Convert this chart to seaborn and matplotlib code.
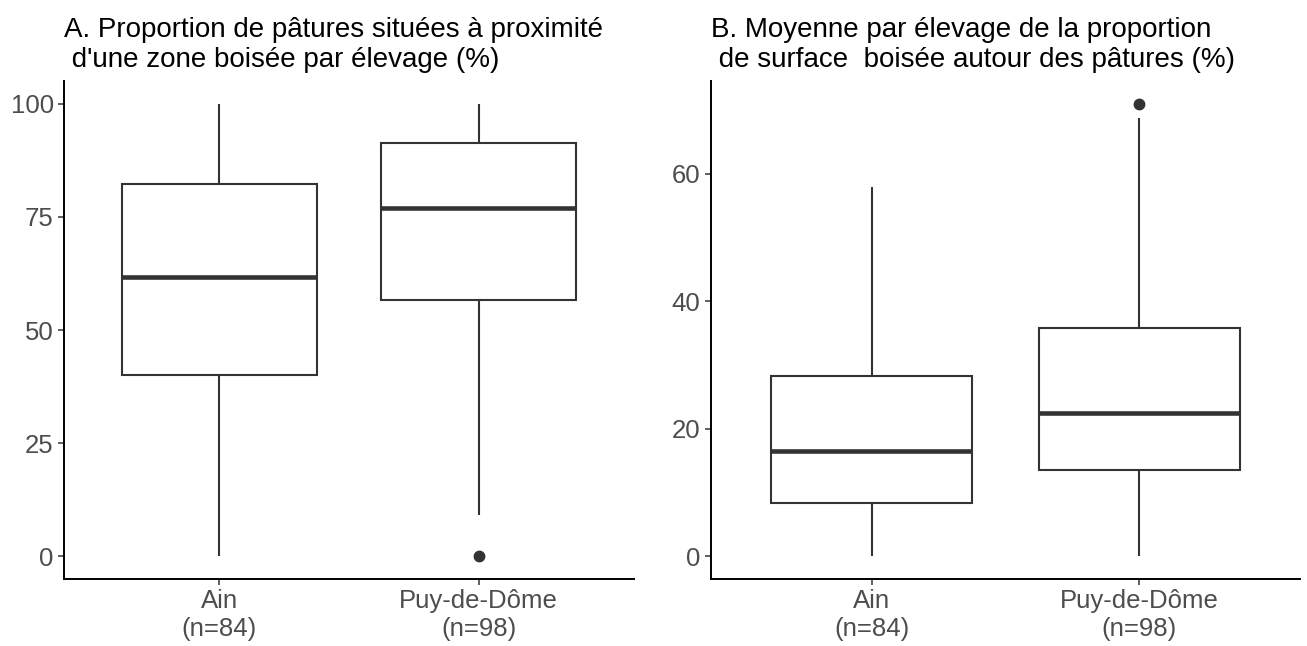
import pandas as pd
import seaborn as sns
import matplotlib.pyplot as plt

# departements and sample sizes
departements = ["Ain", "Puy-de-Dôme"]
effectifs = [84, 98]

# values chosen so the box summaries match the figure
# (min/whisker, Q1, median, Q3, max + outliers)
ain_prox = [0, 40.1, 61.6, 82.2, 100]
puy_prox = [0, 9.2, 56.6, 66, 77, 84, 91.4, 95, 100]
ain_surf = [0, 8.3, 16.5, 28.3, 57.9]
puy_surf = [0, 6, 13.5, 18, 22.5, 29, 35.75, 68.8, 71.0]

ticks_prox = [0, 25, 50, 75, 100]
ticks_surf = [0, 20, 40, 60]

titre_a = "A. Proportion de pâtures situées à proximité\n d'une zone boisée par élevage (%)"
titre_b = "B. Moyenne par élevage de la proportion\n de surface  boisée autour des pâtures (%)"


def make_df(ain, puy):
    return pd.DataFrame({
        "departement": [departements[0]] * len(ain) + [departements[1]] * len(puy),
        "valeur": ain + puy,
    })


sns.set_theme(style="ticks")
plt.rcParams["font.family"] = ["Liberation Sans", "DejaVu Sans"]

fig = plt.figure(figsize=(13.07, 6.46), dpi=100)
ax_a = fig.add_axes([0.049, 0.1037, 0.4361, 0.7709])
ax_b = fig.add_axes([0.544, 0.1037, 0.4507, 0.7709])

labels = [f"{d}\n(n={n})" for d, n in zip(departements, effectifs)]

for ax, df, ticks, titre in [
    (ax_a, make_df(ain_prox, puy_prox), ticks_prox, titre_a),
    (ax_b, make_df(ain_surf, puy_surf), ticks_surf, titre_b),
]:
    sns.boxplot(
        data=df, x="departement", y="valeur", ax=ax,
        color="white", linecolor="#333333", linewidth=1.5, width=0.75,
        showcaps=False, whis=1.5, saturation=1,
        medianprops=dict(linewidth=3.3, color="#333333"),
        flierprops=dict(marker="o", markerfacecolor="#333333",
                        markeredgecolor="#333333", markersize=7.5),
    )
    lo, hi = df["valeur"].min(), df["valeur"].max()
    rng = hi - lo
    ax.set_ylim(lo - 0.05 * rng, hi + 0.05 * rng)
    ax.set_xlim(-0.6, 1.6)
    ax.set_yticks(ticks)
    ax.set_xticks([0, 1])
    ax.set_xticklabels(labels, multialignment="center")
    ax.set_xlabel("")
    ax.set_ylabel("")
    sns.despine(ax=ax)
    for side in ["left", "bottom"]:
        ax.spines[side].set_color("black")
        ax.spines[side].set_linewidth(1.4)
    ax.tick_params(axis="both", length=4.5, width=1.1, color="#333333",
                   labelsize=18.5, labelcolor="#4D4D4D", pad=3)
    ax.set_title(titre, loc="left", fontsize=20, color="black", pad=10)

fig.savefig("out.png", dpi=100, facecolor="white")
